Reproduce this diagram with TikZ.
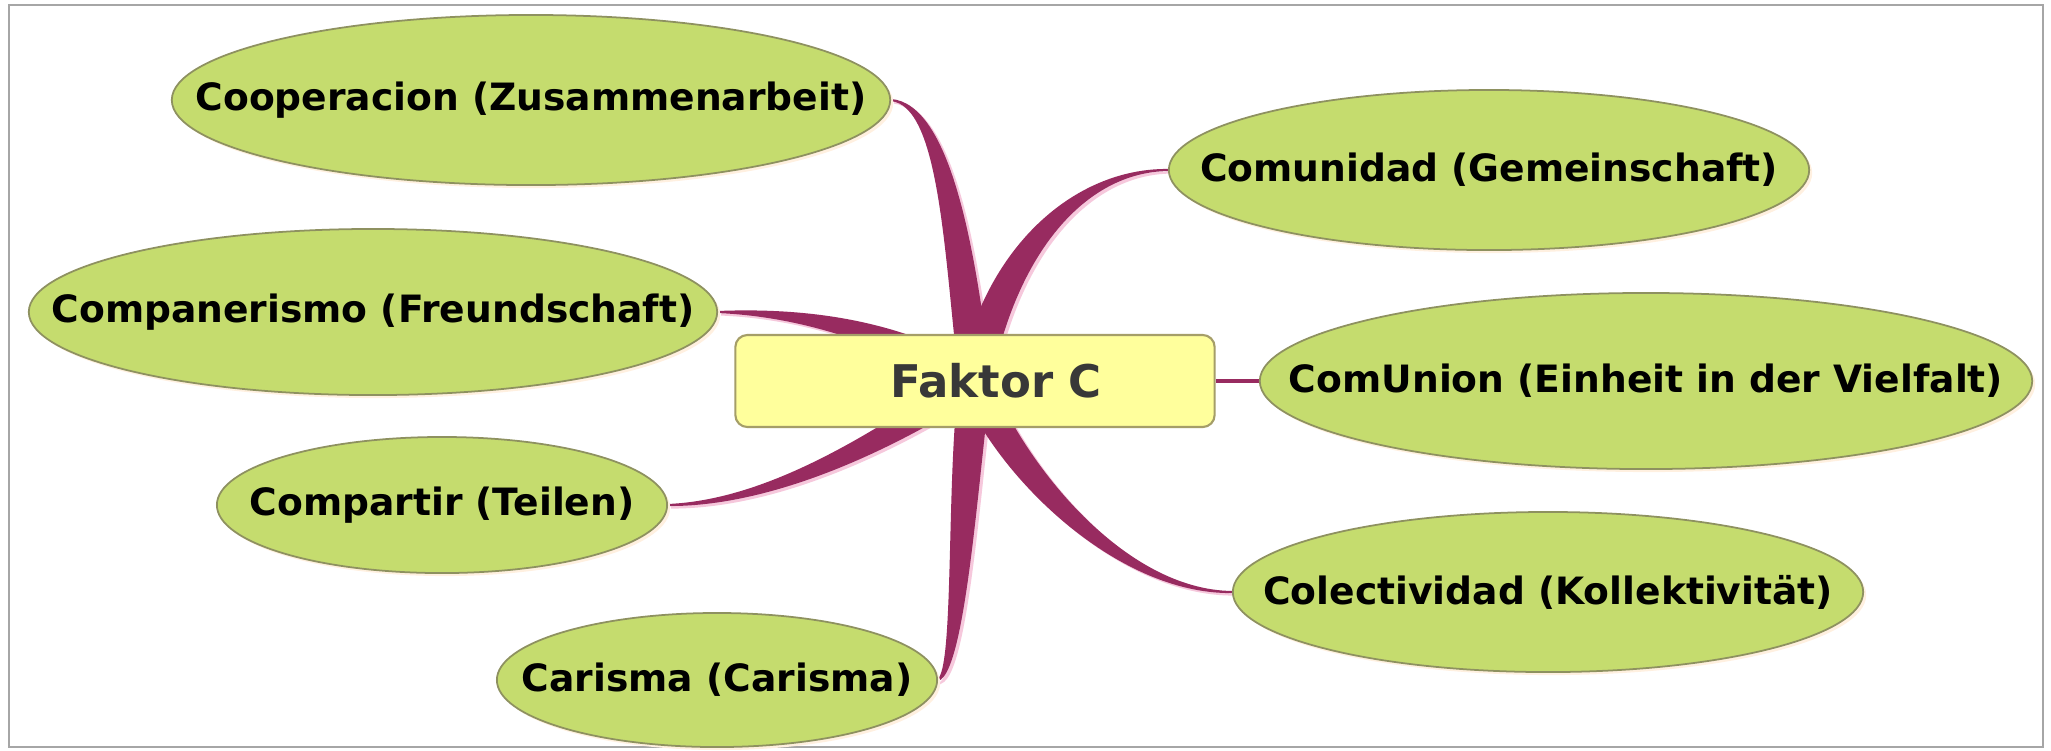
\documentclass[tikz,border=0pt]{standalone}
\usepackage{fontspec}
\setmainfont{DejaVu Sans}
\usepackage{xcolor}
\usetikzlibrary{calc, shapes.geometric, shadows, backgrounds}

\definecolor{leafgreen}{HTML}{C5DC6E}
\definecolor{leafline}{HTML}{8E9160}
\definecolor{hubfill}{HTML}{FFFF9C}
\definecolor{hubline}{HTML}{A59E68}
\definecolor{brcol}{HTML}{982B60}
\definecolor{brglowcol}{HTML}{F6C8DC}

% tapered branch: start anchor, control 1, control 2, half width at the hub
\newcommand\twig[5][br]{%
  \path[#1] (#2) .. controls ($(#3)+0.3*(#5)$) and ($(#4)+(#5)$) .. ($(hub.center)+(#5)$)
     -- ($(hub.center)-(#5)$) .. controls ($(#4)-(#5)$) and ($(#3)-0.3*(#5)$) .. (#2) -- cycle;}

\begin{document}
\begin{tikzpicture}[x=0.01cm, y=-0.01cm,
    leaf/.style = {ellipse, draw=leafline, fill=leafgreen, line width=0.5pt, inner sep=0pt,
                   font=\fontsize{10.7}{13}\selectfont\bfseries,
                   drop shadow={shadow xshift=0.03cm, shadow yshift=-0.03cm, fill=orange!12, opacity=1}},
    hub/.style  = {rectangle, rounded corners=0.12cm, draw=hubline, fill=hubfill, line width=0.6pt,
                   minimum width=4.79cm, minimum height=0.92cm,
                   text=black!78, font=\fontsize{12.8}{15}\selectfont\bfseries},
    br/.style     = {fill=brcol, draw=brcol, line width=0.6pt},
    brglow/.style = {fill=brglowcol, draw=brglowcol, line width=0.6pt,
                     transform canvas={xshift=0.03cm, yshift=-0.025cm}} ]

\useasboundingbox (0,0) rectangle (2051,750);

% centre
\node[hub] (hub) at (975,381) {\hspace{0.42cm}Faktor C};

% left side
\node[leaf, minimum width=7.18cm, minimum height=1.70cm] (coop)  at (531,100) {\makebox[0pt]{Cooperacion (Zusammenarbeit)}};
\node[leaf, minimum width=6.88cm, minimum height=1.66cm] (comp)  at (373,312) {\makebox[0pt]{Companerismo (Freundschaft)}};
\node[leaf, minimum width=4.50cm, minimum height=1.36cm] (compt) at (442,505) {\makebox[0pt]{Compartir (Teilen)}};
\node[leaf, minimum width=4.40cm, minimum height=1.34cm] (cari)  at (717,680) {\makebox[0pt]{Carisma (Carisma)}};

% right side
\node[leaf, minimum width=6.40cm, minimum height=1.60cm] (comu)  at (1489,170) {\makebox[0pt]{Comunidad (Gemeinschaft)}};
\node[leaf, minimum width=7.72cm, minimum height=1.76cm] (cuni)  at (1646,381) {\makebox[0pt]{ComUnion (Einheit in der Vielfalt)}};
\node[leaf, minimum width=6.30cm, minimum height=1.60cm] (cole)  at (1548,592) {\makebox[0pt]{Colectividad (Kollektivität)}};

\begin{pgfonlayer}{background}
  \fill[white] (0,0) rectangle (2051,750);
  \draw[gray!70, line width=0.6pt] (9,5) rectangle (2043,747);
  % glow
  \twig[brglow]{coop.east}{945,105}{960,250}{15,0}
  \twig[brglow]{comu.west}{1080,170}{1000,250}{15,3}
  \twig[brglow]{comp.east}{800,312}{890,330}{-7,11}
  \twig[brglow]{compt.east}{780,503}{900,430}{11,8}
  \twig[brglow]{cari.east}{960,670}{962,480}{15,0}
  \twig[brglow]{cole.west}{1120,592}{1010,470}{14,-4}
  % branches
  \twig{coop.east}{945,105}{960,250}{15,0}
  \twig{comu.west}{1080,170}{1000,250}{15,3}
  \twig{comp.east}{800,312}{890,330}{-7,11}
  \twig{compt.east}{780,503}{900,430}{11,8}
  \twig{cari.east}{960,670}{962,480}{15,0}
  \twig{cole.west}{1120,592}{1010,470}{14,-4}
  \draw[brcol, line width=0.9pt] (hub.east) -- (cuni.west);
\end{pgfonlayer}
\end{tikzpicture}
\end{document}
